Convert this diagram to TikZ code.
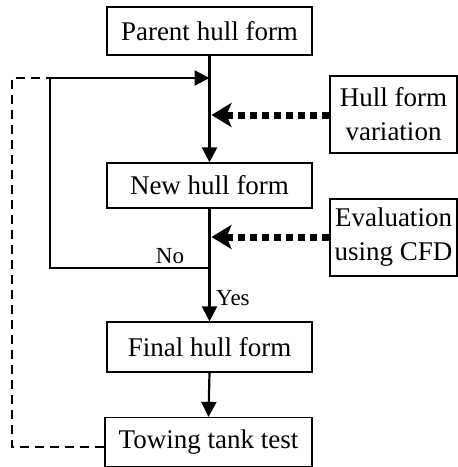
\documentclass[tikz,border=0pt]{standalone}
\usepackage{fontspec}
\setmainfont{Liberation Serif}
\usetikzlibrary{arrows.meta}
\begin{document}
\begin{tikzpicture}[x=1pt,y=-1pt,
  box/.style={draw,line width=1.2pt,inner sep=0pt,font=\fontsize{27}{34}\selectfont,align=center},
  flow/.style={line width=2.2pt,-{Triangle[length=15pt,width=15pt]}},
  link/.style={line width=2.2pt},
  feed/.style={line width=7pt,dash pattern=on 7pt off 5pt,-{Stealth[length=20pt,width=24pt,inset=5pt]}},
  back/.style={line width=2.4pt,dash pattern=on 9pt off 6pt},
  lbl/.style={font=\fontsize{23}{27}\selectfont,inner sep=0pt}]
\useasboundingbox (0,0) rectangle (458,467);
\node[box,minimum width=205pt,minimum height=48pt] (parent) at (209.5,31) {Parent hull form};
\node[box,minimum width=205pt,minimum height=45pt] (new) at (209.5,185.5) {New hull form};
\node[box,minimum width=205pt,minimum height=50pt] (final) at (209.5,347) {Final hull form};
\node[box,minimum width=207pt,minimum height=49pt] (tow) at (208.5,442) {Towing tank test};
\node[box,minimum width=127pt,minimum height=77pt] (var) at (393.5,114.5) {Hull form\\variation};
\node[box,minimum width=127pt,minimum height=77pt] (eval) at (393.5,237.5) {Evaluation\\using CFD};
\coordinate (j1) at (209.5,78);
\coordinate (j2) at (209.5,115);
\coordinate (j3) at (209.5,237);
\coordinate (br) at (209.5,268);
\coordinate (cl) at (50,268);
\coordinate (ct) at (50,78);
\coordinate (dl) at (12,447);
\coordinate (dt) at (12,78);
\draw[flow] (parent.south) -- (new.north);
\draw[link] (new.south) -- (br);
\draw[flow] (br) -- (final.north);
\draw[flow] (final.south) -- (tow.north);
\draw[link] (br) -- (cl) -- (ct);
\draw[flow] (ct) -- (j1);
\draw[back] (tow.west |- dl) -- (dl) -- (dt) -- (ct);
\draw[feed] (var.west |- j2) -- ([xshift=2pt]j2);
\draw[feed] (eval.west |- j3) -- ([xshift=2pt]j3);
\node[lbl,anchor=base] (no) at (170,263) {No};
\node[lbl,anchor=base west] (yes) at (216,305) {Yes};
\end{tikzpicture}
\end{document}
